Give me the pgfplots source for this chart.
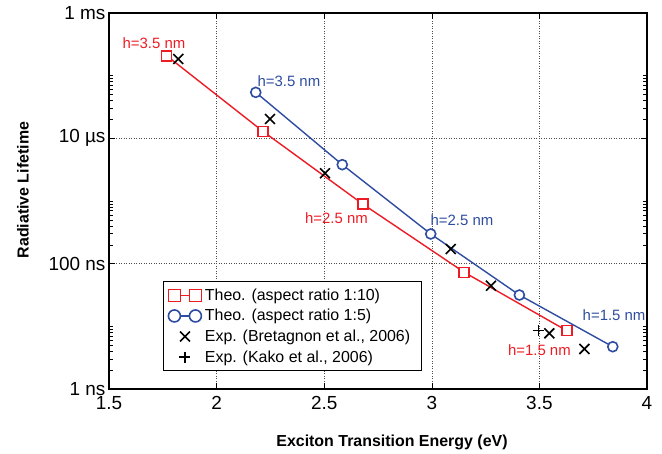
\documentclass[border=0pt]{standalone}
\usepackage{fontspec}
\setmainfont{Liberation Sans}
\usepackage{pgfplots}
\pgfplotsset{compat=1.18}

\definecolor{theored}{RGB}{237,28,36}
\definecolor{theoblue}{RGB}{46,76,160}

% legend pictures: line with a marker at each end, or a single centred marker
\pgfplotsset{
  theo legend/.style={legend image code/.code={
    \draw[##1, mark size=6bp] plot coordinates {(0bp,0bp) (21bp,0bp)};}},
  exp legend/.style={legend image code/.code={
    \draw[##1] plot coordinates {(10.5bp,0bp)};}},
}

\begin{document}
\begin{tikzpicture}
\path[use as bounding box] (-109bp,-65bp) rectangle (553bp,389bp);
\begin{axis}[
  scale only axis, width=538bp, height=376bp,
  xmin=1.5, xmax=4,
  ymode=log, ymin=1e-9, ymax=1e-3,
  xtick={1.5,2,2.5,3,3.5,4},
  xticklabels={1.5,2,2.5,3,3.5,4},
  ytick={1e-9,1e-7,1e-5,1e-3},
  yticklabels={1 ns,100 ns,10 µs,1 ms},
  minor ytick={2e-9,3e-9,4e-9,5e-9,6e-9,7e-9,8e-9,9e-9,1e-8,
               2e-7,3e-7,4e-7,5e-7,6e-7,7e-7,8e-7,9e-7,1e-6,
               2e-5,3e-5,4e-5,5e-5,6e-5,7e-5,8e-5,9e-5,1e-4},
  /pgf/number format/assume math mode=true,
  tick label style={font=\fontsize{19}{22}\selectfont, black},
  xticklabel style={yshift=-4bp},
  tick align=inside,
  major tick length=6bp, minor tick length=4bp,
  tick style={black, line width=0.6bp},
  axis line style={black, line width=1.1bp},
  grid=major,
  major grid style={black!70, line width=0.6bp, dash pattern=on 1bp off 1.5bp},
  xlabel={Exciton Transition Energy (eV)},
  ylabel={Radiative Lifetime},
  xlabel style={font=\fontsize{16}{19}\selectfont\bfseries,
                at={(rel axis cs:0.526,-0.142)}, anchor=center},
  ylabel style={font=\fontsize{16}{19}\selectfont\bfseries,
                at={(rel axis cs:-0.160,0.529)}, anchor=center},
  legend cell align=left,
  legend style={at={(rel axis cs:0.1004,0.048)}, anchor=south west,
                font=\fontsize{16}{18}\selectfont, draw=black, line width=0.8bp,
                inner xsep=5bp, inner ysep=5bp, row sep=3.5bp,
                nodes={inner xsep=3.5bp, inner ysep=2bp}},
]

% theory, aspect ratio 1:10
\addplot[theored, line width=1.4bp, mark=square*, mark size=5bp,
  mark options={solid, draw=theored, fill=white, line width=1.6bp}, theo legend]
  coordinates {(1.768,2.08e-4) (2.217,1.28e-5) (2.679,8.95e-7) (3.151,7.28e-8) (3.627,8.53e-9)};

% theory, aspect ratio 1:5
\addplot[theoblue, line width=1.4bp, mark=*, mark size=5bp,
  mark options={solid, draw=theoblue, fill=white, line width=1.6bp}, theo legend]
  coordinates {(2.182,5.42e-5) (2.584,3.80e-6) (2.995,2.98e-7) (3.407,3.16e-8) (3.841,4.73e-9)};

% Bretagnon et al. 2006
\addplot[black, only marks, mark=x, mark size=7bp,
  mark options={draw=black, line width=1.6bp}, exp legend]
  coordinates {(1.822,1.85e-4) (2.248,2.04e-5) (2.504,2.77e-6) (3.088,1.71e-7)
               (3.275,4.46e-8) (3.546,7.74e-9) (3.709,4.35e-9)};

% Kako et al. 2006
\addplot[black, only marks, mark=+, mark size=5.5bp,
  mark options={draw=black, line width=1.6bp}, exp legend]
  coordinates {(3.495,8.53e-9)};

\legend{\makebox[208bp][l]{Theo. (aspect ratio 1:10)},
        \makebox[208bp][l]{Theo. (aspect ratio 1:5)},
        \makebox[208bp][l]{Exp. (Bretagnon et al., 2006)},
        \makebox[208bp][l]{Exp. (Kako et al., 2006)}}

\begin{scope}[every node/.style={font=\fontsize{15}{18}\selectfont, inner sep=0pt}]
\node[theored]  at (axis cs:1.709,3.32e-4) {h=3.5 nm};
\node[theoblue] at (axis cs:2.336,8.22e-5) {h=3.5 nm};
\node[theored]  at (axis cs:2.557,5.36e-7) {h=2.5 nm};
\node[theoblue] at (axis cs:3.140,4.98e-7) {h=2.5 nm};
\node[theoblue] at (axis cs:3.847,1.52e-8) {h=1.5 nm};
\node[theored]  at (axis cs:3.500,4.20e-9) {h=1.5 nm};
\end{scope}
\end{axis}
\end{tikzpicture}
\end{document}
